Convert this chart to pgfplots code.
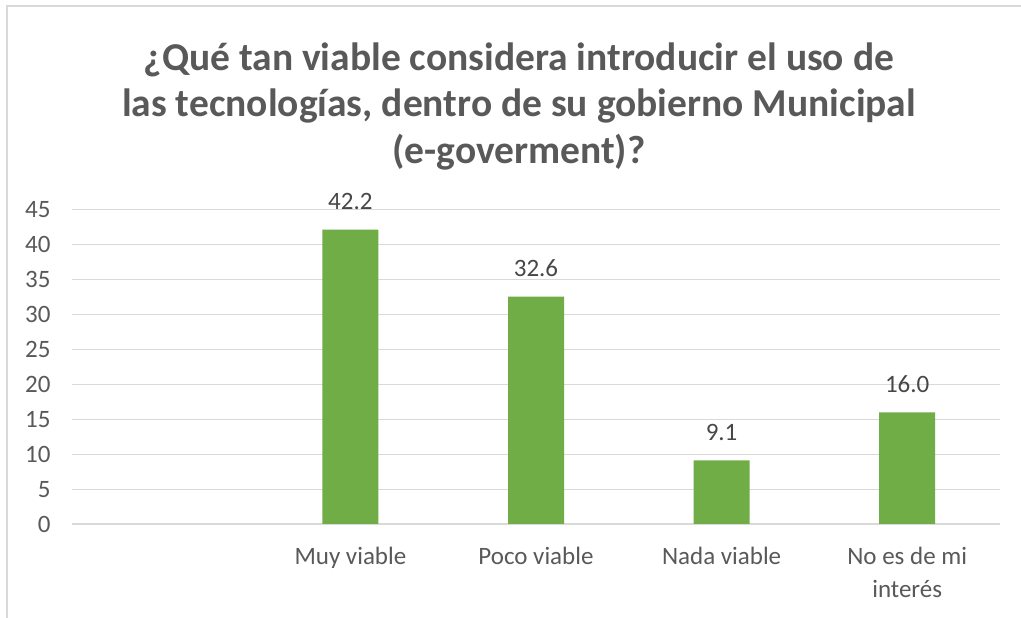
\documentclass[border=0pt]{standalone}
\usepackage{pgfplots}
\pgfplotsset{compat=1.18}
\usepackage{fontspec}
\setmainfont{Carlito}
\definecolor{bargreen}{HTML}{70AD47}
\definecolor{txtgray}{HTML}{595959}
\definecolor{gridgray}{HTML}{D9D9D9}
\begin{document}
\begin{tikzpicture}[x=1pt,y=1pt]
\useasboundingbox (0,0) rectangle (1021,618);
\fill[white] (0,0) rectangle (1021,618);
\draw[gridgray, line width=2pt] (7,0) -- (7,612) -- (1021,612);
\node[font=\bfseries\fontsize{39.5}{46.5}\selectfont, text=txtgray, align=center, anchor=center] at (519,512) {¿Qué tan viable considera introducir el uso de\\las tecnologías, dentro de su gobierno Municipal\\(e-goverment)?};
\begin{axis}[
  at={(72pt,94pt)}, anchor=south west,
  scale only axis, width=928pt, height=314pt,
  xmin=-0.5, xmax=4.5, ymin=0, ymax=45,
  ytick={0,5,...,45},
  xtick={1,2,3,4},
  xticklabels={Muy viable,Poco viable,Nada viable,{No es de mi\\interés}},
  xticklabel style={align=center, text=txtgray, font=\fontsize{25}{33}\selectfont, yshift=-20pt},
  yticklabel style={text=txtgray, font=\fontsize{25}{30}\selectfont, xshift=-18pt},
  /pgf/number format/assume math mode=true,
  ymajorgrids, grid style={gridgray, line width=1pt},
  axis x line*=bottom, axis y line*=left,
  y axis line style={draw=none},
  x axis line style={gridgray, line width=1.5pt, -},
  major tick length=0pt,
  ybar, bar width=56pt,
  nodes near coords,
  nodes near coords style={text=txtgray!80!black, font=\fontsize{25}{30}\selectfont, yshift=16pt, /pgf/number format/fixed, /pgf/number format/fixed zerofill, /pgf/number format/precision=1},
  clip=false,
]
\addplot[fill=bargreen, draw=none] coordinates {(1,42.2) (2,32.6) (3,9.1) (4,16.0)};
\end{axis}
\end{tikzpicture}
\end{document}
